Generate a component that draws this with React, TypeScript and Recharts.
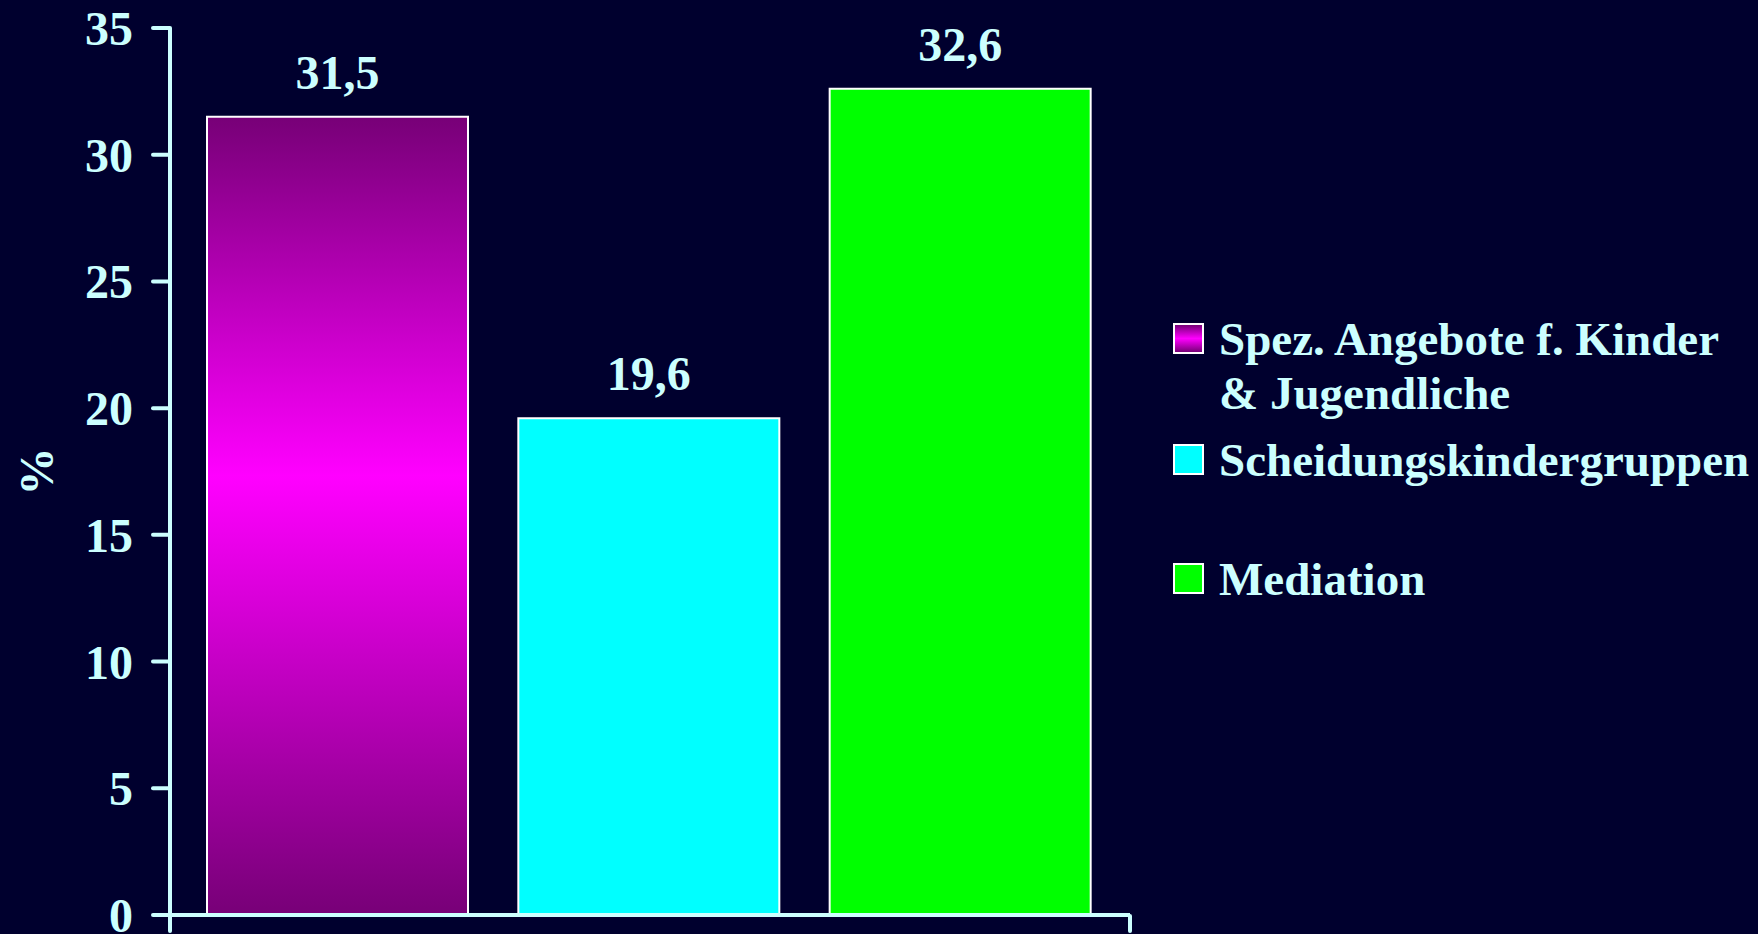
import React from 'react';
import { Bar, BarChart, Cell, LabelList, XAxis, YAxis } from 'recharts';

const categories = ['Spez. Angebote f. Kinder & Jugendliche', 'Scheidungskindergruppen', 'Mediation'];
const percentValues = [31.5, 19.6, 32.6];
const yTicks = [0, 5, 10, 15, 20, 25, 30, 35];
const legendLines = [['Spez. Angebote f. Kinder', '& Jugendliche'], ['Scheidungskindergruppen'], ['Mediation']];
const barFills = ['url(#magentaGradient)', '#00ffff', '#00ff00'];

const chartData = categories.map((name, i) => ({ name, value: percentValues[i] }));

const BG = '#00002e';
const INK = '#ccffff';
const FONT = '"Liberation Serif", "Times New Roman", serif';

const formatComma = (v: number) => String(v).replace('.', ',');

// legend rows: top offset of each item inside the legend box
const legendTops = [0, 121, 240];

function PercentLabel({ viewBox }: any) {
  const cy = viewBox ? viewBox.y + viewBox.height / 2 : 470;
  return (
    <text
      x={36}
      y={cy}
      transform={`rotate(-90, 36, ${cy})`}
      textAnchor="middle"
      dominantBaseline="central"
      fill={INK}
      fontSize={48}
      fontWeight="bold"
      fontFamily={FONT}
    >
      %
    </text>
  );
}

const EmptyTick = () => <g />;

export default function App() {
  return (
    <div
      style={{
        position: 'absolute',
        left: 0,
        top: 0,
        width: 1758,
        height: 934,
        background: BG,
        overflow: 'hidden',
        fontFamily: FONT,
      }}
    >
      <BarChart
        width={1758}
        height={934}
        data={chartData}
        margin={{ top: 28, right: 628, bottom: 0, left: 0 }}
      >
        <defs>
          <linearGradient id="magentaGradient" x1="0" y1="0" x2="0" y2="1">
            <stop offset="0%" stopColor="#770077" />
            <stop offset="45%" stopColor="#ff00ff" />
            <stop offset="100%" stopColor="#770077" />
          </linearGradient>
        </defs>
        <XAxis
          dataKey="name"
          height={1}
          tick={EmptyTick}
          tickLine={false}
          padding={{ left: 12, right: 14 }}
          axisLine={{ stroke: INK, strokeWidth: 4 }}
        />
        {/* end marks of the category axis */}
        <XAxis
          xAxisId="edge"
          type="number"
          domain={[0, 2]}
          ticks={[0, 2]}
          allowDataOverflow
          height={18}
          tick={EmptyTick}
          axisLine={false}
          tickSize={15}
          tickLine={{ stroke: INK, strokeWidth: 4, strokeLinecap: 'round' }}
        />
        <YAxis
          type="number"
          domain={[0, 35]}
          ticks={yTicks}
          width={170}
          interval={0}
          tickSize={17}
          tickMargin={20}
          axisLine={{ stroke: INK, strokeWidth: 4 }}
          tickLine={{ stroke: INK, strokeWidth: 4, strokeLinecap: 'round' }}
          tick={{ fill: INK, fontSize: 48, fontWeight: 'bold', fontFamily: FONT }}
          label={<PercentLabel />}
        />
        <Bar dataKey="value" barSize={261} stroke="#ffffff" strokeWidth={2} isAnimationActive={false}>
          {chartData.map((entry, i) => (
            <Cell key={entry.name} fill={barFills[i]} />
          ))}
          <LabelList
            dataKey="value"
            position="top"
            offset={28}
            formatter={(v: any) => formatComma(Number(v))}
            fill={INK}
            fontSize={48}
            fontWeight="bold"
            fontFamily={FONT}
          />
        </Bar>
      </BarChart>

      <div style={{ position: 'absolute', left: 1173, top: 312, width: 585, height: 320 }}>
        {legendLines.map((lines, i) => (
          <div key={i} style={{ position: 'absolute', left: 0, top: legendTops[i] }}>
            <div
              style={{
                position: 'absolute',
                left: 0,
                top: 11,
                width: 27,
                height: 27,
                border: '2px solid #ffffff',
                background: i === 0 ? 'linear-gradient(#770077, #ff00ff 50%, #770077)' : barFills[i],
              }}
            />
            <div
              style={{
                position: 'absolute',
                left: 46,
                top: 0,
                whiteSpace: 'nowrap',
                color: INK,
                fontSize: 47,
                fontWeight: 'bold',
                lineHeight: '54px',
              }}
            >
              {lines.map((t) => (
                <div key={t}>{t}</div>
              ))}
            </div>
          </div>
        ))}
      </div>
    </div>
  );
}
